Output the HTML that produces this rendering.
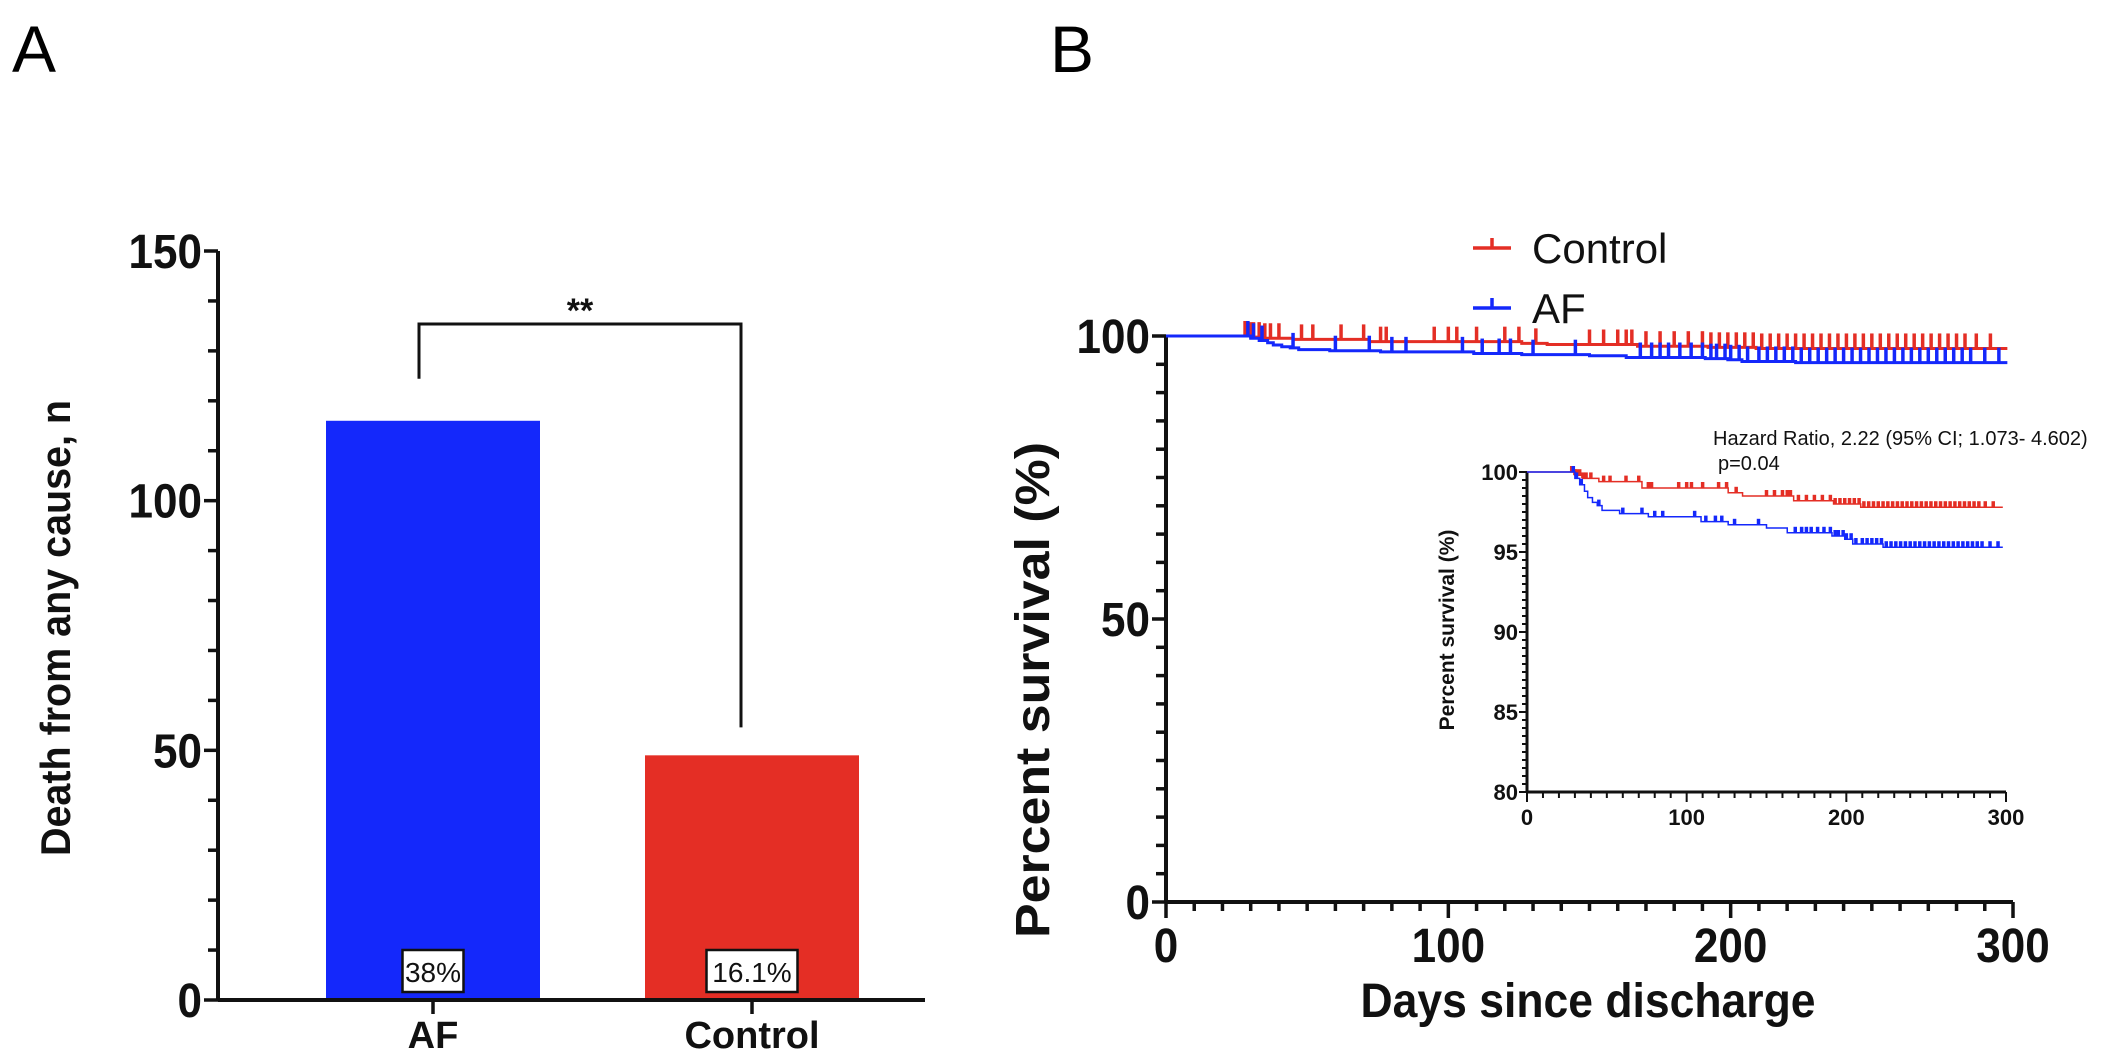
<!DOCTYPE html>
<html><head><meta charset="utf-8"><style>
html,body{margin:0;padding:0;background:#fff;}
svg{display:block;font-family:"Liberation Sans",Arial,sans-serif;}
</style></head><body>
<svg id="fig" width="2101" height="1055" viewBox="0 0 2101 1055" xmlns="http://www.w3.org/2000/svg">
<text x="12" y="72" font-size="66">A</text>
<text x="1050" y="72" font-size="66">B</text>
<g id="pa"></g>
<g id="pb"></g>
<g id="pi"></g>
</svg>
<script>
// ---- Panel A data ----
const barCategories = ["AF", "Control"];
const barValues = [116, 49];
const barPercents = ["38%", "16.1%"];
const barColors = ["#1428fb", "#e42e25"];
const barTicks = [0, 50, 100, 150];
// ---- Panel B data (Kaplan-Meier steps: day, percent) ----
const afDays = [0, 27, 30, 33, 36, 38, 41, 44, 47, 58, 76, 109, 126, 150, 163, 191, 199, 204, 223, 298];
const afSurv = [100, 100, 99.6, 99.2, 98.8, 98.4, 98.1, 97.9, 97.6, 97.4, 97.2, 96.9, 96.7, 96.5, 96.2, 96.0, 95.8, 95.5, 95.3, 95.3];
const ctrlDays = [0, 27, 30, 35, 45, 72, 126, 135, 167, 192, 209, 298];
const ctrlSurv = [100, 100, 99.8, 99.6, 99.4, 99.0, 98.7, 98.5, 98.2, 98.0, 97.8, 97.8];
const afCensor = [29, 31, 34, 45, 60, 72, 80, 85, 105, 112, 118, 122, 130, 145, 168, 172, 175, 178, 182, 186, 190, 193, 195, 198, 200, 203, 206, 210, 213, 216, 219, 222, 225, 228, 231, 234, 237, 240, 243, 246, 249, 252, 255, 258, 261, 264, 267, 270, 273, 276, 279, 282, 285, 290, 295];
const ctrlCensor = [28, 30, 31, 33, 35, 37, 40, 48, 52, 62, 70, 76, 78, 95, 100, 103, 110, 120, 125, 131, 150, 155, 160, 163, 165, 170, 175, 180, 185, 190, 193, 196, 199, 202, 205, 208, 211, 214, 217, 220, 223, 226, 229, 232, 235, 238, 241, 244, 247, 250, 253, 256, 259, 262, 265, 268, 271, 274, 277, 280, 283, 287, 292];
const mainYTicks = [0, 50, 100];
const xTicks = [0, 100, 200, 300];
const insetYTicks = [80, 85, 90, 95, 100];

const NS = "http://www.w3.org/2000/svg";
function mk(parent, tag, attrs, text) {
  const e = document.createElementNS(NS, tag);
  for (const k in attrs) e.setAttribute(k, attrs[k]);
  if (text !== undefined) e.textContent = text;
  parent.appendChild(e);
  return e;
}
const ink = "#111";

// ===== Panel A =====
(function () {
  const g = document.getElementById("pa");
  const x0 = 218, y0 = 1000, yTop = 251;
  const ys = v => y0 - (v / 150) * (y0 - yTop);
  const barCenters = [433, 752], bw = 214;
  let e = mk(g, "line", { x1: x0, y1: yTop, x2: x0, y2: y0 + 1.5, stroke: ink, "stroke-width": 4 });
  
  
  for (let v = 0; v <= 150; v += 10) {
    const major = barTicks.includes(v);
    e = mk(g, "line", { x1: x0 - (major ? 14 : 10), y1: ys(v), x2: x0, y2: ys(v), stroke: ink, "stroke-width": 3.5 });
    
    
  }
  barTicks.forEach(v => {
    e = mk(g, "text", { x: x0 - 16, y: ys(v) + 17, "font-size": 48, "font-weight": "bold", "text-anchor": "end", fill: ink, textLength: String(v).length * 24.5, lengthAdjust: "spacingAndGlyphs" }, String(v));
    
    
  });
  barValues.forEach((v, i) => {
    e = mk(g, "rect", { x: barCenters[i] - bw / 2, y: ys(v), width: bw, height: y0 - ys(v), fill: barColors[i] });
    
    
    const w = barPercents[i].length * 15 + 16;
    e = mk(g, "rect", { x: barCenters[i] - w / 2, y: 950, width: w, height: 42, fill: "#fff", stroke: ink, "stroke-width": 2.5 });
    
    
    e = mk(g, "text", { x: barCenters[i], y: 982, "font-size": 28, "text-anchor": "middle", fill: ink }, barPercents[i]);
    
    
    e = mk(g, "line", { x1: barCenters[i], y1: y0, x2: barCenters[i], y2: y0 + 14, stroke: ink, "stroke-width": 3.5 });
    
    
    e = mk(g, "text", { x: barCenters[i], y: 1048, "font-size": 38, "font-weight": "bold", "text-anchor": "middle", fill: ink }, barCategories[i]);
    
    
  });
  e = mk(g, "line", { x1: x0, y1: y0, x2: 925, y2: y0, stroke: ink, "stroke-width": 4 });
  
  
  e = mk(g, "path", { d: `M419 ${ys(barValues[0]) - 42} V324 H741 V${ys(barValues[1]) - 28}`, fill: "none", stroke: ink, "stroke-width": 3 });
  
  
  e = mk(g, "text", { x: 580, y: 322, "font-size": 34, "font-weight": "bold", "text-anchor": "middle", fill: ink }, "**");
  
  
  e = mk(g, "text", { x: 0, y: 0, "font-size": 42, "font-weight": "bold", "text-anchor": "middle", fill: ink, transform: "translate(70,628) rotate(-90)", textLength: 456, lengthAdjust: "spacingAndGlyphs" }, "Death from any cause, n");
  
  
})();

function drawKM(g, xs, ys, days, surv, censor, color, tickH, sw, name) {
  let d = `M${xs(days[0])} ${ys(surv[0])}`;
  for (let i = 1; i < days.length; i++) d += ` H${xs(days[i])} V${ys(surv[i])}`;
  let e = mk(g, "path", { d, fill: "none", stroke: color, "stroke-width": sw });
  
  
  censor.forEach(c => {
    let s = surv[0];
    for (let i = 0; i < days.length; i++) if (days[i] <= c) s = surv[i];
    e = mk(g, "line", { x1: xs(c), y1: ys(s), x2: xs(c), y2: ys(s) - tickH, stroke: color, "stroke-width": 3.5 });
    
    
  });
}

// ===== Panel B main =====
(function () {
  const g = document.getElementById("pb");
  const x0 = 1166, x1 = 2013, y0 = 902, y100 = 336;
  const xs = d => x0 + d / 300 * (x1 - x0);
  const ys = v => y0 - v / 100 * (y0 - y100);
  let e = mk(g, "line", { x1: x0, y1: y100, x2: x0, y2: y0 + 1.5, stroke: ink, "stroke-width": 4 });
  
  
  for (let v = 0; v <= 100; v += 5) {
    const major = mainYTicks.includes(v);
    e = mk(g, "line", { x1: x0 - (major ? 14 : 10), y1: ys(v), x2: x0, y2: ys(v), stroke: ink, "stroke-width": 3.5 });
    
    
  }
  mainYTicks.forEach(v => {
    e = mk(g, "text", { x: x0 - 16, y: ys(v) + 17, "font-size": 48, "font-weight": "bold", "text-anchor": "end", fill: ink, textLength: String(v).length * 24.5, lengthAdjust: "spacingAndGlyphs" }, String(v));
    
    
  });
  e = mk(g, "line", { x1: x0, y1: y0, x2: x1, y2: y0, stroke: ink, "stroke-width": 4 });
  
  
  for (let d = 0; d <= 300; d += 10) {
    const major = xTicks.includes(d);
    e = mk(g, "line", { x1: xs(d), y1: y0, x2: xs(d), y2: y0 + (major ? 16 : 9), stroke: ink, "stroke-width": 3.5 });
    
    
  }
  xTicks.forEach(d => {
    e = mk(g, "text", { x: xs(d), y: 962, "font-size": 48, "font-weight": "bold", "text-anchor": "middle", fill: ink, textLength: String(d).length * 24.5, lengthAdjust: "spacingAndGlyphs" }, String(d));
    
    
  });
  e = mk(g, "text", { x: 1588, y: 1017, "font-size": 48, "font-weight": "bold", "text-anchor": "middle", fill: ink, textLength: 455, lengthAdjust: "spacingAndGlyphs" }, "Days since discharge");
  
  
  e = mk(g, "text", { x: 0, y: 0, "font-size": 48, "font-weight": "bold", "text-anchor": "middle", fill: ink, transform: "translate(1049,690) rotate(-90)", textLength: 496, lengthAdjust: "spacingAndGlyphs" }, "Percent survival (%)");
  
  
  drawKM(g, xs, ys, ctrlDays, ctrlSurv, ctrlCensor, "#e42e25", 15, 3, "control");
  drawKM(g, xs, ys, afDays, afSurv, afCensor, "#1428fb", 15, 3, "af");
  [["Control", "#e42e25", 248], ["AF", "#1428fb", 308]].forEach(([t, c, y]) => {
    e = mk(g, "path", { d: `M1473 ${y} H1511 M1492 ${y} V${y - 10}`, stroke: c, "stroke-width": 3.5, fill: "none" });
    
    
    e = mk(g, "text", { x: 1532, y: y + 15, "font-size": 42, fill: ink }, t);
    
    
  });
})();

// ===== Inset =====
(function () {
  const g = document.getElementById("pi");
  const x0 = 1527, x1 = 2006, y0 = 792, y100 = 472;
  const xs = d => x0 + d / 300 * (x1 - x0);
  const ys = v => y0 - (v - 80) / 20 * (y0 - y100);
  let e = mk(g, "line", { x1: x0, y1: y100, x2: x0, y2: y0 + 1, stroke: ink, "stroke-width": 3 });
  
  
  for (let v = 80; v <= 100.001; v += 0.5) {
    const major = insetYTicks.includes(Math.round(v * 10) / 10);
    e = mk(g, "line", { x1: x0 - (major ? 8 : 5), y1: ys(v), x2: x0, y2: ys(v), stroke: ink, "stroke-width": 2 });
    
    
  }
  insetYTicks.forEach(v => {
    e = mk(g, "text", { x: x0 - 9, y: ys(v) + 8, "font-size": 22, "font-weight": "bold", "text-anchor": "end", fill: ink }, String(v));
    
    
  });
  e = mk(g, "line", { x1: x0, y1: y0, x2: x1, y2: y0, stroke: ink, "stroke-width": 3 });
  
  
  for (let d = 0; d <= 300; d += 10) {
    const major = xTicks.includes(d);
    e = mk(g, "line", { x1: xs(d), y1: y0, x2: xs(d), y2: y0 + (major ? 10 : 6), stroke: ink, "stroke-width": 2 });
    
    
  }
  xTicks.forEach(d => {
    e = mk(g, "text", { x: xs(d), y: y0 + 33, "font-size": 22, "font-weight": "bold", "text-anchor": "middle", fill: ink }, String(d));
    
    
  });
  e = mk(g, "text", { x: 0, y: 0, "font-size": 21, "font-weight": "bold", "text-anchor": "middle", fill: ink, transform: "translate(1454,630) rotate(-90)" }, "Percent survival (%)");
  
  
  e = mk(g, "text", { x: 1713, y: 445, "font-size": 20, fill: ink }, "Hazard Ratio, 2.22 (95% CI; 1.073- 4.602)");
  
  
  e = mk(g, "text", { x: 1718, y: 470, "font-size": 20, fill: ink }, "p=0.04");
  
  
  drawKM(g, xs, ys, ctrlDays, ctrlSurv, ctrlCensor, "#e42e25", 6, 1.5, "inset-control");
  drawKM(g, xs, ys, afDays, afSurv, afCensor, "#1428fb", 6, 1.5, "inset-af");
})();
</script>
</body></html>
